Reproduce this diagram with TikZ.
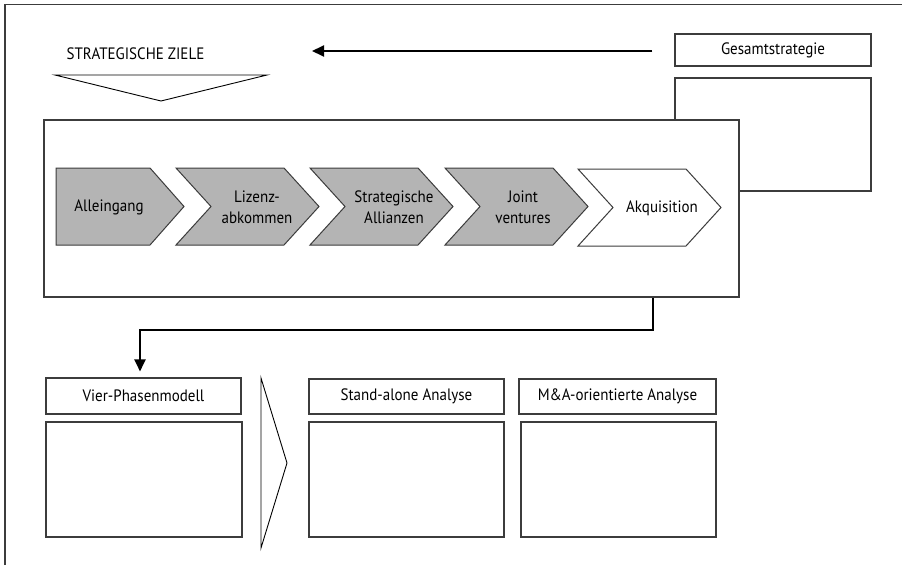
\documentclass[tikz,border=0pt]{standalone}
\usepackage{fontspec}
\setmainfont{PT Sans}[FakeStretch=0.91]
\usetikzlibrary{arrows.meta}
\definecolor{chevgrey}{RGB}{180,180,180}
\definecolor{linegrey}{RGB}{60,60,60}
\begin{document}
\begin{tikzpicture}[x=1pt,y=-1pt,
  frame/.style={draw=linegrey, line width=1.2pt},
  box/.style={draw=linegrey, line width=1.1pt, fill=white, inner sep=0pt,
    font=\fontsize{16.5}{19}\selectfont},
  chev/.style={draw=linegrey, line width=1pt},
  grey/.style={chev, fill=chevgrey},
  lbl/.style={font=\fontsize{16.5}{21}\selectfont, align=center, inner sep=0pt},
  flow/.style={line width=2pt, -{Triangle[length=12pt,width=11pt]}},
  wedge/.style={draw=black, line width=0.9pt, fill=white}
]
\useasboundingbox (0,0) rectangle (902,565);
\fill[white] (0,0) rectangle (902,565);
\draw[frame] (5,565) -- (5,4.5) -- (902,4.5);

% heading with its wedge
\node[lbl] (ziele) at (135.5,54) {STRATEGISCHE ZIELE};
\draw[wedge] (55,75) -- (267,75) -- (161,101) -- cycle;

% overall strategy
\node[box, minimum width=196pt, minimum height=32pt] (gs) at (773,50) {Gesamtstrategie};
\node[box, minimum width=196pt, minimum height=113pt] (gsbody) at (773,134.5) {};

% main frame with the chevron chain
\node[box, minimum width=695pt, minimum height=177pt] (main) at (391.5,208.5) {};

\draw[grey] (56,168) -- (150,168) -- (184,206.5) -- (150,245) -- (56,245) -- cycle;
\draw[grey] (176,168) -- ++(108,0) -- ++(35,38.5) -- ++(-35,38.5) -- ++(-108,0) -- ++(35,-38.5) -- cycle;
\draw[grey] (310,168) -- ++(108,0) -- ++(35,38.5) -- ++(-35,38.5) -- ++(-108,0) -- ++(35,-38.5) -- cycle;
\draw[grey] (445,168) -- ++(108,0) -- ++(35,38.5) -- ++(-35,38.5) -- ++(-108,0) -- ++(35,-38.5) -- cycle;
\draw[chev, fill=white] (578,169) -- ++(108,0) -- ++(35,38.5) -- ++(-35,38.5) -- ++(-108,0) -- ++(35,-38.5) -- cycle;

\node[lbl] (c1) at (109,207) {Alleingang};
\node[lbl] (c2) at (257,207) {Lizenz-\\abkommen};
\node[lbl] (c3) at (394,207) {Strategische\\Allianzen};
\node[lbl] (c4) at (523,207) {Joint\\ventures};
\node[lbl] (c5) at (662,208) {Akquisition};

% lower row
\node[box, minimum width=195pt, minimum height=36pt] (vier) at (143.5,396) {Vier-Phasenmodell};
\node[box, minimum width=196pt, minimum height=115pt] (vierbody) at (144,479.5) {};
\draw[wedge] (261,378) -- (287,463) -- (261,548) -- cycle;
\node[box, minimum width=195pt, minimum height=35pt] (stand) at (406.5,396.5) {Stand-alone Analyse};
\node[box, minimum width=195pt, minimum height=115pt] (standbody) at (406.5,479.5) {};
\node[box, minimum width=197pt, minimum height=35pt] (ma) at (617.5,396.5) {M\&A-orientierte Analyse};
\node[box, minimum width=195pt, minimum height=115pt] (mabody) at (618.5,479.5) {};

% connectors
\coordinate (ziel) at (312,51);
\draw[flow] ([xshift=-22pt,yshift=-1pt]gs.west) -- (ziel);
\coordinate (k1) at (653,330);
\coordinate (k2) at (140,330);
\draw[flow] (main.south -| k1) -- (k1) -- (k2) -- ([yshift=6pt]vier.north -| k2);
\end{tikzpicture}
\end{document}
